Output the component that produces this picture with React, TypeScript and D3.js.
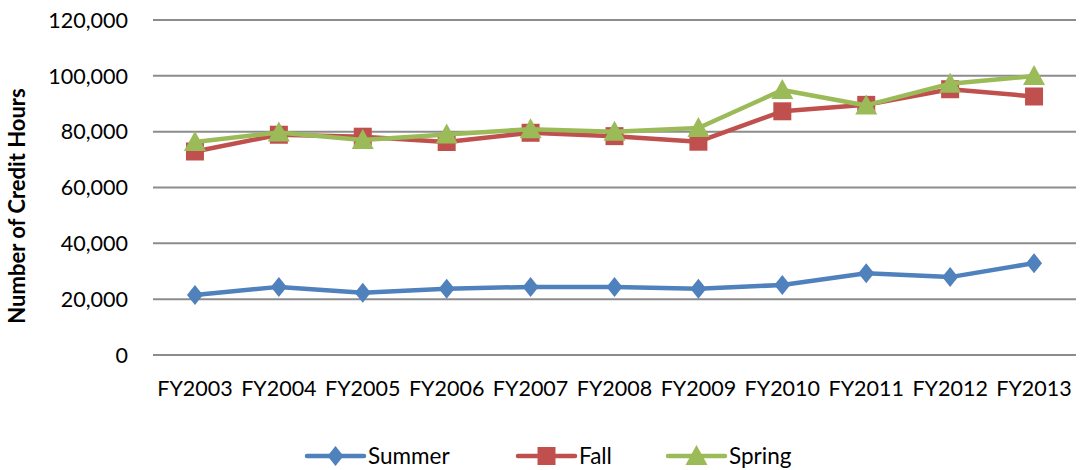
import React, { useEffect } from 'react'
import * as d3 from 'd3'

const years = ['FY2003', 'FY2004', 'FY2005', 'FY2006', 'FY2007', 'FY2008', 'FY2009', 'FY2010', 'FY2011', 'FY2012', 'FY2013']
const summer = [21500, 24400, 22300, 23700, 24400, 24400, 23700, 25100, 29300, 27900, 32900]
const fall = [72900, 78900, 78200, 76300, 79600, 78400, 76400, 87300, 89600, 95200, 92600]
const spring = [76300, 79700, 77000, 79000, 80900, 80000, 81300, 94900, 89400, 97200, 99900]
const yTicks = [0, 20000, 40000, 60000, 80000, 100000, 120000]

const W = 1081
const H = 470
const margin = { top: 20, right: 5, bottom: 115, left: 153 }

const font = 'Lato, "Open Sans", sans-serif'

const diamond = 'M0,-10L8,0L0,10L-8,0Z'
const square = 'M-9,-9H9V9H-9Z'
const triangle = 'M0,-11L11,9H-11Z'

const series = [
  { name: 'Summer', values: summer, color: '#4F81BD', marker: diamond },
  { name: 'Fall', values: fall, color: '#C0504D', marker: square },
  { name: 'Spring', values: spring, color: '#9BBB59', marker: triangle },
]

const legendX = [307, 518, 668]

const App = () => {
  useEffect(() => {
    document.body.style.margin = '0'
  }, [])

  const x = d3.scaleBand().domain(years).range([margin.left, W - margin.right])
  const y = d3.scaleLinear().domain([0, 120000]).range([H - margin.bottom, margin.top])
  const cx = (d: string) => (x(d) as number) + x.bandwidth() / 2
  const fmt = d3.format(',')

  const line = d3.line<number>()
    .x((_, i) => cx(years[i]))
    .y(d => y(d))

  return (
    <svg width={W} height={H} style={{ display: 'block', background: '#fff' }}>
      {yTicks.map(t => (
        <g key={t}>
          <line x1={margin.left} x2={W - margin.right} y1={y(t)} y2={y(t)} stroke="#8c8c8c" strokeWidth={2} />
          <text x={128} y={y(t)} dy="0.36em" textAnchor="end" fontFamily={font} fontSize={21.5} fill="#000">{fmt(t)}</text>
        </g>
      ))}
      {years.map(d => (
        <text key={d} x={cx(d)} y={388} dy="0.36em" textAnchor="middle" fontFamily={font} fontSize={21.5} fill="#000">{d}</text>
      ))}
      <text transform="translate(17,206) rotate(-90)" textAnchor="middle" dy="0.36em" fontFamily={font} fontSize={22} fontWeight="bold" fill="#000">Number of Credit Hours</text>

      {series.map(s => (
        <g key={s.name}>
          <path d={line(s.values) as string} fill="none" stroke={s.color} strokeWidth={4.5} strokeLinejoin="round" />
          {s.values.map((v, i) => (
            <path key={i} d={s.marker} transform={`translate(${cx(years[i])},${y(v)})`} fill={s.color} />
          ))}
        </g>
      ))}

      {series.map((s, i) => (
        <g key={s.name} transform={`translate(${legendX[i]},456)`}>
          <line x1={0} x2={57} y1={0} y2={0} stroke={s.color} strokeWidth={4.5} strokeLinecap="round" />
          <path d={s.marker} transform="translate(28.5,0)" fill={s.color} />
          <text x={61} y={0} dy="0.35em" fontFamily={font} fontSize={22.5} fill="#000">{s.name}</text>
        </g>
      ))}
    </svg>
  )
}

export default App
